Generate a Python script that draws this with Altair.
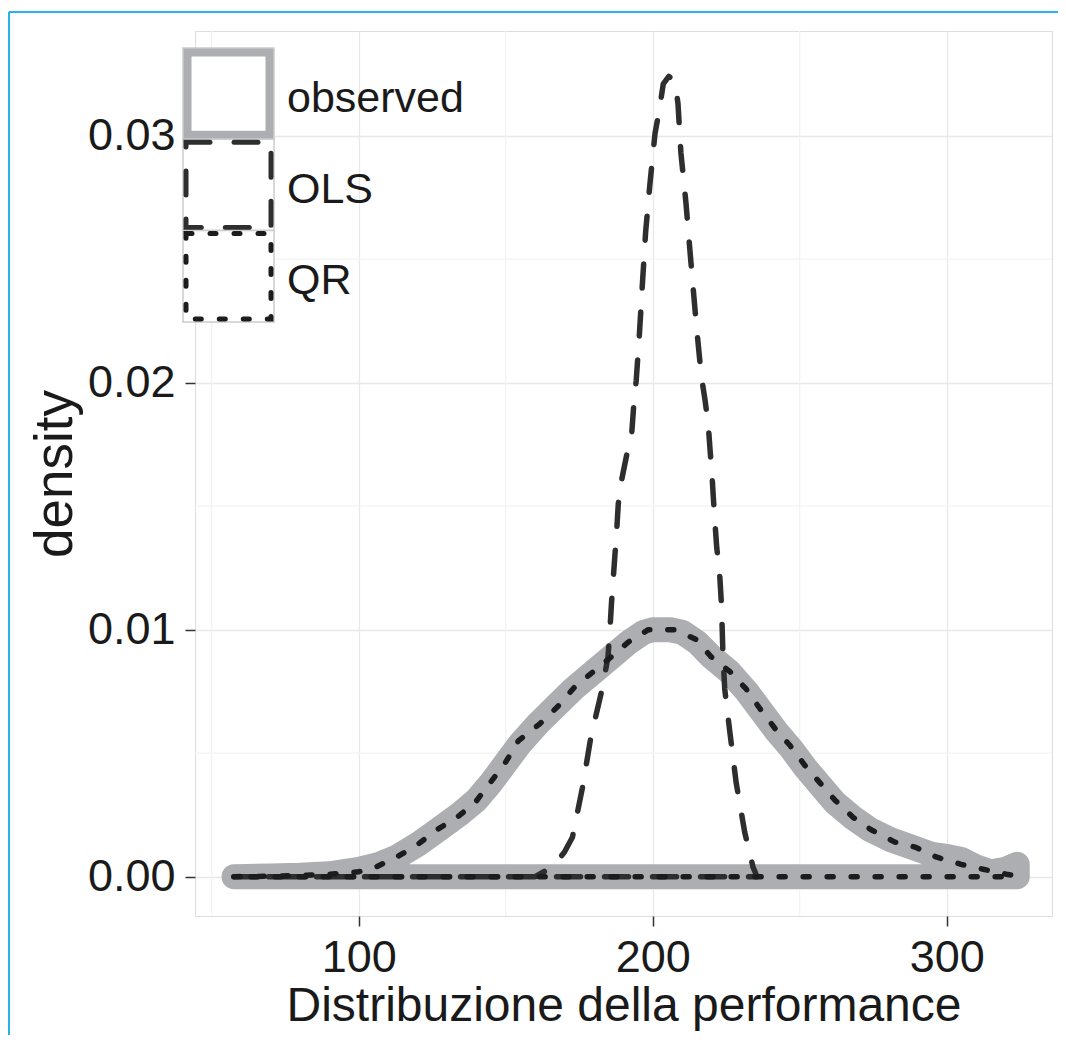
import altair as alt
import pandas as pd

# ---- data ----
series_names = ["observed", "OLS", "QR"]

obs_x = [57.6, 70, 80, 90, 100, 107, 113, 120, 127, 134, 140, 145, 150, 155, 161, 167, 173,
         180, 186, 192, 197, 200, 206, 210, 215, 220, 226, 232, 237, 242, 247, 252, 257,
         262, 268, 274, 281, 288, 295, 301, 305, 310, 315, 320, 324]
obs_y = [0.0, 0.00003, 0.00006, 0.00012, 0.0003, 0.0005, 0.0008, 0.0013, 0.0019, 0.0025,
         0.0031, 0.0038, 0.0046, 0.0054, 0.0062, 0.0069, 0.0076, 0.0083, 0.0089, 0.0095,
         0.0099, 0.0100, 0.0100, 0.0099, 0.0095, 0.0089, 0.0083, 0.0075, 0.0067, 0.0059,
         0.0052, 0.0044, 0.0037, 0.0030, 0.0024, 0.0019, 0.0015, 0.0012, 0.0009, 0.0008,
         0.0007, 0.0004, 0.0002, 0.0003, 0.0005]

ols_x = [57.5, 100, 150, 160, 166, 170, 172.7, 176.1, 178.9, 182.8, 184.8, 185.5, 186.0,
         186.6, 187.2, 187.8, 188.3, 189.5, 191.2, 192.9, 193.5, 194.4, 195.5, 196.5, 197.6,
         199.1, 200.8, 202.2, 203.6, 205.5, 207.6, 208.6, 209.6, 211.3, 212.7, 214.8, 216.5,
         217.8, 218.9, 219.5, 220.1, 220.6, 221.2, 221.8, 222.7, 223.4, 223.9, 224.5, 226.2,
         228.4, 231.3, 234.1, 235.5]
ols_y = [0.0, 0.0, 0.0, 0.0, 0.0004, 0.0010, 0.0016, 0.0036, 0.0056, 0.0076, 0.0089,
         0.0101, 0.0111, 0.0121, 0.0131, 0.0141, 0.0151, 0.0161, 0.0171, 0.0180, 0.0190,
         0.0201, 0.0220, 0.0240, 0.0261, 0.0281, 0.0301, 0.0310, 0.0321, 0.0324, 0.0322,
         0.0313, 0.0293, 0.0273, 0.0253, 0.0224, 0.0203, 0.0193, 0.0183, 0.0173, 0.0164,
         0.0154, 0.0143, 0.0133, 0.0124, 0.0110, 0.0090, 0.0076, 0.0059, 0.0038, 0.0018,
         0.0004, 0.0]

qr_x = [57.6, 70, 80, 90, 100, 106, 113, 120, 126.6, 133.4, 139.6, 144.7, 149.8, 154.3,
        161.7, 167.8, 173.6, 179.8, 185.9, 191.7, 198.5, 203, 207.6, 214.8, 219.9, 226.3,
        231.8, 236.5, 241.6, 246.8, 251.8, 256.9, 262, 268.2, 274.3, 282.4, 289.2, 296.4,
        304.9, 312.4, 320.3, 323]
qr_y = [0.0, 0.00002, 0.00005, 0.0001, 0.0002, 0.0004, 0.0008, 0.0013, 0.0019, 0.0024,
        0.0030, 0.0038, 0.0046, 0.0055, 0.0062, 0.0069, 0.0077, 0.0083, 0.0089, 0.0095,
        0.0100, 0.0100, 0.0100, 0.0096, 0.0089, 0.0083, 0.0076, 0.0068, 0.0060, 0.0053,
        0.0045, 0.0038, 0.0031, 0.0024, 0.0019, 0.0014, 0.0012, 0.0008, 0.0005, 0.0003,
        0.0001, 0.00005]

x_ticks = [100, 200, 300]
y_ticks = [0.00, 0.01, 0.02, 0.03]
x_minor = [50, 150, 250]
y_minor = [0.005, 0.015, 0.025]

x_domain = [44.32, 335.82]
y_domain = [-0.001591, 0.034239]

FONT = "Liberation Sans"
OBS_COLOR = "#ADAEB2"
OLS_COLOR = "#2e2e2e"
QR_COLOR = "#1c1c1c"
OLS_DASH = [24, 24]
QR_DASH = [6, 18]


def closed_path(xs, ys, name):
    # geom_density outline: curve, then back along the baseline
    px = list(xs) + [xs[-1], xs[0]]
    py = list(ys) + [0.0, 0.0]
    return pd.DataFrame({"x": px, "y": py, "idx": list(range(len(px))), "series": name})


df_obs = closed_path(obs_x, obs_y, series_names[0])
df_ols = closed_path(ols_x, ols_y, series_names[1])
df_qr = closed_path(qr_x, qr_y, series_names[2])

xscale = alt.Scale(domain=x_domain, nice=False, zero=False)
yscale = alt.Scale(domain=y_domain, nice=False, zero=False)

xaxis = alt.Axis(
    values=x_ticks, title="Distribuzione della performance", grid=True,
    gridColor="#e8e8e8", gridWidth=1.3, domain=False, tickSize=10, tickWidth=1.5,
    tickColor="#333333", labelFontSize=45, labelPadding=9, labelColor="#1a1a1a",
    labelFont=FONT, titleFont=FONT, titleFontSize=48, titleFontWeight="normal",
    titleColor="#1a1a1a", titleY=104, titleBaseline="alphabetic", labelFlush=False,
)
yaxis = alt.Axis(
    values=y_ticks, format=".2f", title="density", grid=True,
    gridColor="#e8e8e8", gridWidth=1.3, domain=False, tickSize=10, tickWidth=1.5,
    tickColor="#333333", labelFontSize=45, labelPadding=10, labelColor="#1a1a1a",
    labelFont=FONT, titleFont=FONT, titleFontSize=53, titleFontWeight="normal",
    titleColor="#1a1a1a", titleAngle=270, titleX=-124, titleY=442.5,
    titleBaseline="alphabetic", titleAlign="center", labelFlush=False,
)

X = lambda f: alt.X(f, scale=xscale, axis=xaxis)
Y = lambda f: alt.Y(f, scale=yscale, axis=yaxis)

minor_x = alt.Chart(pd.DataFrame({"x": x_minor})).mark_rule(
    color="#f3f3f3", strokeWidth=1.3).encode(x=X("x:Q"))
minor_y = alt.Chart(pd.DataFrame({"y": y_minor})).mark_rule(
    color="#f3f3f3", strokeWidth=1.3).encode(y=Y("y:Q"))

obs_layer = alt.Chart(df_obs).mark_line(
    color=OBS_COLOR, strokeWidth=25, strokeCap="round", strokeJoin="round", clip=False
).encode(x=X("x:Q"), y=Y("y:Q"), order="idx:Q")

ols_layer = alt.Chart(df_ols).mark_line(
    color=OLS_COLOR, strokeWidth=5.5, strokeDash=OLS_DASH, strokeCap="round",
    strokeJoin="round", clip=False
).encode(x=X("x:Q"), y=Y("y:Q"), order="idx:Q")

qr_layer = alt.Chart(df_qr).mark_line(
    color=QR_COLOR, strokeWidth=5.5, strokeDash=QR_DASH, strokeCap="round",
    strokeJoin="round", clip=False
).encode(x=X("x:Q"), y=Y("y:Q"), order="idx:Q")

# ---- legend (drawn inside the panel, top-left, like the reference) ----
key_styles = [
    dict(color=OBS_COLOR, width=8, dash=None),
    dict(color=OLS_COLOR, width=5, dash=OLS_DASH),
    dict(color=QR_COLOR, width=5, dash=QR_DASH),
]
KEY_X0, KEY_X1 = -12, 79
KEY_Y0, KEY_STEP = 17, 91.3
legend_layers = []
for i, (name, st) in enumerate(zip(series_names, key_styles)):
    one = pd.DataFrame({"label": [name]})
    y0 = KEY_Y0 + KEY_STEP * i
    y1 = y0 + KEY_STEP
    frame = alt.Chart(one).mark_rect(
        fill="white", stroke="#cccccc", strokeWidth=1.5
    ).encode(x=alt.value(KEY_X0), x2=alt.value(KEY_X1), y=alt.value(y0), y2=alt.value(y1))
    inset = st["width"] / 2 + 0.5
    kw = dict(fill="transparent", stroke=st["color"], strokeWidth=st["width"],
              strokeCap="round", strokeJoin="miter")
    if st["dash"] is not None:
        kw["strokeDash"] = st["dash"]
    key = alt.Chart(one).mark_rect(**kw).encode(
        x=alt.value(KEY_X0 + inset), x2=alt.value(KEY_X1 - inset),
        y=alt.value(y0 + inset), y2=alt.value(y1 - inset))
    label = alt.Chart(one).mark_text(
        align="left", baseline="alphabetic", font=FONT, fontSize=43, color="#1a1a1a"
    ).encode(x=alt.value(KEY_X1 + 13), y=alt.value(y0 + 63.7), text="label:N")
    legend_layers += [frame, key, label]

# ---- thin cyan page frame seen in the reference ----
one_row = pd.DataFrame({"k": [0]})
frame_top = alt.Chart(one_row).mark_rule(color="#27B3E6", strokeWidth=2).encode(
    x=alt.value(-186), x2=alt.value(870), y=alt.value(-19))
frame_left = alt.Chart(one_row).mark_rule(color="#27B3E6", strokeWidth=2).encode(
    x=alt.value(-186), y=alt.value(-19), y2=alt.value(1010))

chart = alt.layer(
    minor_x, minor_y, obs_layer, ols_layer, qr_layer, *legend_layers, frame_top, frame_left
).properties(
    width=857, height=885,
    padding={"left": 187, "top": 23, "right": 6, "bottom": 119},
    autosize=alt.AutoSizeParams(type="none"),
).configure_view(
    stroke="#7f7f7f", strokeWidth=1.5
).configure(
    font=FONT, background="white"
)

chart.save("out.html", embed_options={"renderer": "svg", "actions": False})
